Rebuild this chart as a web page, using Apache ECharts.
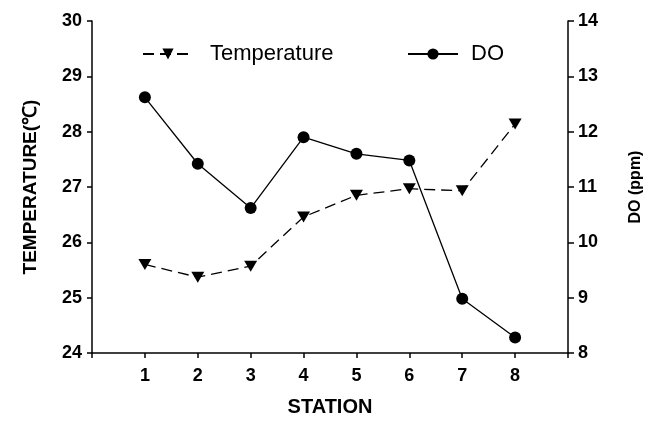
<!DOCTYPE html>
<html>
<head>
<meta charset="utf-8">
<script src="https://cdn.jsdelivr.net/npm/echarts@6/dist/echarts.min.js"></script>
<style>html,body{margin:0;padding:0;background:#fff}#c{width:649px;height:421px}</style>
</head>
<body>
<div id="c"></div>
<script>
var stations = [1, 2, 3, 4, 5, 6, 7, 8];
var temperature = [25.6, 25.37, 25.57, 26.46, 26.85, 26.97, 26.93, 28.14];
var dissolvedO2 = [12.62, 11.42, 10.62, 11.9, 11.6, 11.48, 8.98, 8.28];
var xTickLabels = ['', '1', '2', '3', '4', '5', '6', '7', '8', ''];

var FONT = '"Liberation Sans", Arial, sans-serif';
var triDown = 'path://M0,0 L12,0 L6,10 Z';

function pairs(ys) { return stations.map(function (s, i) { return [s, ys[i]]; }); }

var chart = echarts.init(document.getElementById('c'), null, {renderer: 'canvas'});
chart.setOption({
  animation: false,
  backgroundColor: '#fff',
  textStyle: {fontFamily: FONT, color: '#000'},
  grid: {left: 92, right: 81, top: 21, bottom: 68, containLabel: false, outerBoundsMode: 'none'},
  legend: [
    {data: ['Temperature'], left: 137, top: 38, itemWidth: 50, itemHeight: 14,
     textStyle: {fontFamily: FONT, fontSize: 22, color: '#000', padding: [0, 0, 0, 12]}},
    {data: ['DO'], left: 402, top: 38, itemWidth: 50, itemHeight: 14,
     textStyle: {fontFamily: FONT, fontSize: 22, color: '#000', padding: [0, 0, 0, 8]}}
  ],
  xAxis: {
    type: 'value', min: 0, max: 9, interval: 1,
    name: 'STATION', nameLocation: 'middle', nameGap: 44,
    nameTextStyle: {fontFamily: FONT, fontSize: 20, fontWeight: 'bold', color: '#000'},
    axisLine: {show: true, lineStyle: {color: '#000', width: 1.5}},
    axisTick: {show: true, inside: false, length: 5, lineStyle: {color: '#000', width: 1.5}},
    axisLabel: {fontFamily: FONT, fontSize: 18, fontWeight: 'bold', color: '#000', margin: 14,
      formatter: function (v) { return xTickLabels[v] || ''; }},
    splitLine: {show: false}
  },
  yAxis: [
    {type: 'value', min: 24, max: 30, interval: 1, position: 'left',
     name: 'TEMPERATURE(℃)', nameLocation: 'middle', nameGap: 52, nameRotate: 90,
     nameTextStyle: {fontFamily: FONT, fontSize: 19, fontWeight: 'bold', color: '#000'},
     axisLine: {show: true, lineStyle: {color: '#000', width: 1.5}},
     axisTick: {show: true, inside: false, length: 5, lineStyle: {color: '#000', width: 1.5}},
     axisLabel: {fontFamily: FONT, fontSize: 18, fontWeight: 'bold', color: '#000', margin: 10},
     splitLine: {show: false}},
    {type: 'value', min: 8, max: 14, interval: 1, position: 'right',
     name: 'DO (ppm)', nameLocation: 'middle', nameGap: 60, nameRotate: 90,
     nameTextStyle: {fontFamily: FONT, fontSize: 16, fontWeight: 'bold', color: '#000'},
     axisLine: {show: true, lineStyle: {color: '#000', width: 1.5}},
     axisTick: {show: true, inside: false, length: 6, lineStyle: {color: '#000', width: 1.5}},
     axisLabel: {fontFamily: FONT, fontSize: 18, fontWeight: 'bold', color: '#000', margin: 10},
     splitLine: {show: false}}
  ],
  series: [
    {name: 'Temperature', type: 'line', yAxisIndex: 0, data: pairs(temperature),
     symbol: triDown, symbolSize: [13, 11], showAllSymbol: true,
     itemStyle: {color: '#000'},
     lineStyle: {color: '#000', width: 1.3, type: [11, 6]}},
    {name: 'DO', type: 'line', yAxisIndex: 1, data: pairs(dissolvedO2),
     symbol: 'circle', symbolSize: 12, showAllSymbol: true,
     itemStyle: {color: '#000'},
     lineStyle: {color: '#000', width: 1.3, type: 'solid'}}
  ]
});
</script>
</body>
</html>
